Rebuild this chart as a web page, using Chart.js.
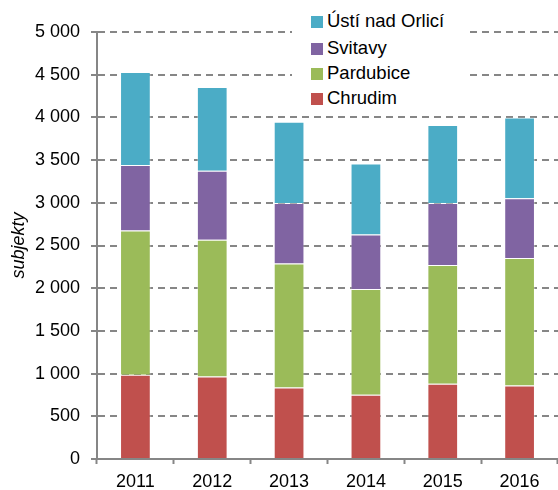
<!DOCTYPE html>
<html>
<head>
<meta charset="utf-8">
<script src="https://cdn.jsdelivr.net/npm/chart.js@4"></script>
<style>
  html, body { margin: 0; padding: 0; background: #fff; }
  #wrap { position: relative; width: 558px; height: 490px; }
  #legend {
    position: absolute; left: 292px; top: 6px; width: 177px; height: 104px;
    background: #fff; font-family: "Liberation Sans", Arial, sans-serif;
    font-size: 18.5px; color: #000;
  }
  #legend .row { position: absolute; left: 19px; height: 25px; line-height: 25px; white-space: nowrap; }
  #legend .sw { display: inline-block; width: 12px; height: 12px; margin-right: 4px; vertical-align: -1px; }
</style>
</head>
<body>
<div id="wrap">
  <canvas id="chart" width="558" height="490"></canvas>
  <div id="legend"></div>
</div>
<script>
// data
const years = ["2011", "2012", "2013", "2014", "2015", "2016"];
const chrudim = [987, 967, 838, 753, 882, 862];
const pardubice = [1690, 1601, 1452, 1238, 1390, 1492];
const svitavy = [766, 808, 708, 639, 726, 698];
const ustiNadOrlici = [1089, 980, 952, 831, 913, 948];
const yTickValues = [0, 500, 1000, 1500, 2000, 2500, 3000, 3500, 4000, 4500, 5000];

const FONT = "'Liberation Sans', Arial, sans-serif";
const GRID = "#868686";

function fmtThousands(v) {
    // 5000 -> "5 000"
    if (v < 1000) return String(v);
    const th = Math.floor(v / 1000);
    const rest = String(v % 1000).padStart(3, "0");
    return th + " " + rest;
}

const series = [
    { label: "Chrudim", data: chrudim, color: "#C0504D" },
    { label: "Pardubice", data: pardubice, color: "#9BBB59" },
    { label: "Svitavy", data: svitavy, color: "#8064A2" },
    { label: "Ústí nad Orlicí", data: ustiNadOrlici, color: "#4BACC6" },
];

const chart = new Chart(document.getElementById("chart"), {
    type: "bar",
    data: {
        labels: years,
        datasets: series.map((s) => ({
            label: s.label,
            data: s.data,
            backgroundColor: s.color,
            borderColor: "rgba(255,255,255,0.35)",
            borderWidth: 1,
            categoryPercentage: 1,
            barPercentage: 0.4,
        })),
    },
    options: {
        responsive: false,
        animation: false,
        layout: { padding: { top: 32, right: 0, left: 0, bottom: 0 } },
        plugins: { legend: { display: false }, tooltip: { enabled: false } },
        scales: {
            x: {
                stacked: true,
                offset: true,
                afterFit: (s) => { s.height = 31; },
                grid: {
                    offset: true,
                    drawOnChartArea: false,
                    drawTicks: true,
                    tickLength: 5,
                    tickColor: GRID,
                    tickWidth: 2,
                },
                border: { display: true, color: GRID, width: 2 },
                ticks: {
                    color: "#000",
                    padding: 7,
                    font: { family: FONT, size: 18 },
                },
            },
            y: {
                stacked: true,
                min: 0,
                max: 5000,
                afterFit: (s) => { s.width = 97; },
                afterBuildTicks: (s) => { s.ticks = yTickValues.map((v) => ({ value: v })); },
                grid: {
                    color: GRID,
                    lineWidth: 2,
                    drawTicks: true,
                    tickLength: 6,
                    tickColor: GRID,
                    tickWidth: 2,
                    tickBorderDash: [],
                },
                // in v4 the grid line dash comes from border.dash
                border: { display: true, color: GRID, width: 2, dash: [7, 5] },
                ticks: {
                    color: "#000",
                    padding: 11,
                    font: { family: FONT, size: 18 },
                    callback: (v) => fmtThousands(v),
                },
                title: {
                    display: true,
                    text: "subjekty",
                    color: "#000",
                    padding: { top: 8, bottom: 0 },
                    font: { family: FONT, size: 18, style: "italic" },
                },
            },
        },
    },
});

// legend, top entry = top of the stack
const legendEl = document.getElementById("legend");
const rowTops = [2, 29, 54, 79];
series.slice().reverse().forEach((s, i) => {
    const row = document.createElement("div");
    row.className = "row";
    row.style.top = rowTops[i] + "px";
    row.innerHTML = '<span class="sw" style="background:' + s.color + '"></span>' + s.label;
    legendEl.appendChild(row);
});
</script>
</body>
</html>
